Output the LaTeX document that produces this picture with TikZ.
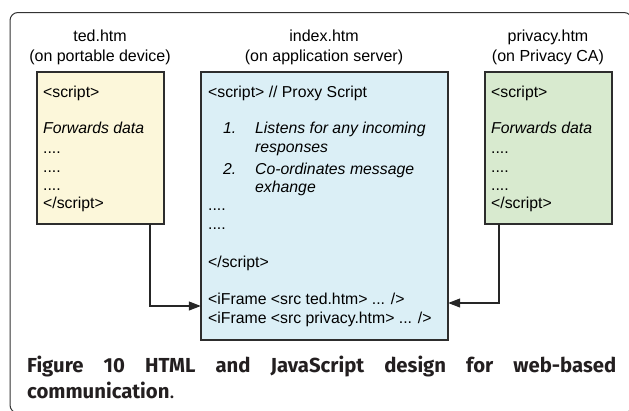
\documentclass[tikz,border=0pt]{standalone}
\usepackage{fontspec}
\setmainfont{Liberation Sans}
\newfontfamily\capfont{Fira Sans}
\usetikzlibrary{arrows.meta}
\definecolor{tedfill}{RGB}{252,247,218}
\definecolor{idxfill}{RGB}{219,239,246}
\definecolor{prvfill}{RGB}{216,234,207}
\definecolor{boxline}{RGB}{45,45,45}
\definecolor{captext}{RGB}{35,31,32}
\tikzset{
  filebox/.style={draw=boxline, line width=1.1pt, inner sep=0pt},
  txt/.style={anchor=base west, inner sep=0pt, font=\fontsize{15.8}{18}\selectfont},
  head/.style={anchor=base, inner sep=0pt, font=\fontsize{16}{19}\selectfont},
  link/.style={draw=black!85, line width=1.2pt, -{Triangle[length=12pt,width=9pt]}},
  capline/.style={anchor=base west, inner sep=0pt, text=captext, font=\capfont\bfseries\fontsize{20.3}{24}\selectfont},
}
\begin{document}
\begin{tikzpicture}[x=1pt,y=-1pt]
\useasboundingbox (0,0) rectangle (629,410);
\begin{scope}
\clip (0,0) rectangle (629,410);
\draw[line width=1pt, black!80, rounded corners=8pt] (10,12.5) rectangle (632,413);
\end{scope}
% headings
\node[head] (h1a) at (100,41) {ted.htm};
\node[head] (h1b) at (100,61) {(on portable device)};
\node[head] (h2a) at (324,41) {index.htm};
\node[head] (h2b) at (324,61) {(on application server)};
\node[head] (h3a) at (548,41) {privacy.htm};
\node[head] (h3b) at (548,61) {(on Privacy CA)};
% boxes
\path[filebox, fill=tedfill] (37,72) rectangle (164,224);
\node[inner sep=0pt, minimum width=127pt, minimum height=152pt] (ted) at (100.5,148) {};
\path[filebox, fill=idxfill] (201,72) rectangle (448,340);
\node[inner sep=0pt, minimum width=247pt, minimum height=268pt] (idx) at (324.5,206) {};
\path[filebox, fill=prvfill] (485,72) rectangle (612,224);
\node[inner sep=0pt, minimum width=127pt, minimum height=152pt] (prv) at (548.5,148) {};
% ted text
\node[txt] (t1) at (43,97) {<script>};
\node[txt] (t2) at (43,133) {\itshape Forwards data};
\node[txt] (t3) at (43,153) {....};
\node[txt] (t4) at (43,172) {....};
\node[txt] (t5) at (43,190) {....};
\node[txt] (t6) at (43,208) {</script>};
% privacy text
\node[txt] (p1) at (491,97) {<script>};
\node[txt] (p2) at (491,133) {\itshape Forwards data};
\node[txt] (p3) at (491,153) {....};
\node[txt] (p4) at (491,172) {....};
\node[txt] (p5) at (491,190) {....};
\node[txt] (p6) at (491,208) {</script>};
% index text
\node[txt] (i1) at (208,97) {<script> // Proxy Script};
\node[txt] (i2n) at (223,133) {\itshape 1.};
\node[txt] (i2) at (255,133) {\itshape Listens for any incoming};
\node[txt] (i3) at (255,152) {\itshape responses};
\node[txt] (i4n) at (223,174) {\itshape 2.};
\node[txt] (i4) at (255,174) {\itshape Co-ordinates message};
\node[txt] (i5) at (255,192) {\itshape exhange};
\node[txt] (i6) at (208,210) {....};
\node[txt] (i7) at (208,229) {....};
\node[txt] (i8) at (208,267) {</script>};
\node[txt] (i9) at (208,304) {<iFrame <src ted.htm> ... />};
\node[txt] (i10) at (208,323) {<iFrame <src privacy.htm> ... />};
% connectors
\coordinate (tb) at (150,224);
\coordinate (pb) at (499,224);
\draw[link] (tb) |- (idx.west |- 0,306);
\draw[link] (pb) |- (idx.east |- 0,303);
% caption
\node[capline] (cap1) at (27,372) {\makebox[589pt][s]{Figure 10 HTML and JavaScript design for web-based}};
\node[capline] (cap2) at (27,398) {communication{\mdseries .}};
\end{tikzpicture}
\end{document}
